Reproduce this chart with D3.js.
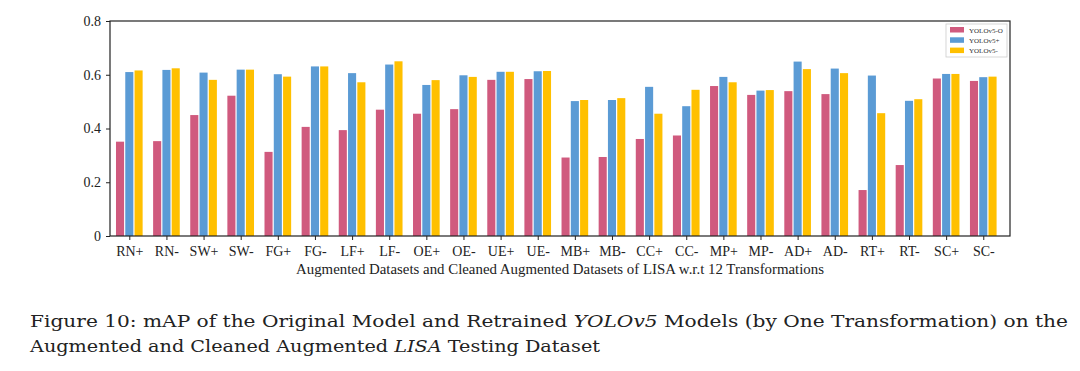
<!DOCTYPE html>
<html><head><meta charset="utf-8">
<script src="https://cdn.jsdelivr.net/npm/d3@7"></script>
<style>body{margin:0;background:#fff}svg{display:block}</style>
</head><body><svg id="c" width="1080" height="371"></svg>
<script>
const categories = ["RN+","RN-","SW+","SW-","FG+","FG-","LF+","LF-","OE+","OE-","UE+","UE-","MB+","MB-","CC+","CC-","MP+","MP-","AD+","AD-","RT+","RT-","SC+","SC-"];
const seriesNames = ["YOLOv5-O","YOLOv5+","YOLOv5-"];
const yoloO    = [0.351,0.353,0.450,0.522,0.313,0.406,0.394,0.470,0.455,0.472,0.581,0.584,0.292,0.294,0.361,0.374,0.558,0.525,0.539,0.528,0.171,0.264,0.586,0.577];
const yoloPlus = [0.610,0.618,0.608,0.619,0.602,0.631,0.606,0.638,0.562,0.598,0.611,0.613,0.502,0.506,0.555,0.483,0.592,0.541,0.649,0.623,0.597,0.503,0.603,0.591];
const yoloMinus= [0.616,0.624,0.581,0.619,0.593,0.631,0.572,0.650,0.580,0.592,0.611,0.614,0.506,0.513,0.455,0.544,0.572,0.543,0.621,0.606,0.457,0.509,0.603,0.593];
const yTicks = [0,0.2,0.4,0.6,0.8];
const colors = ["#d05a7e","#5b9bd5","#ffc000"];
const series = [yoloO, yoloPlus, yoloMinus];

const svg = d3.select("#c");
const L=110,R=1010,T=21,B=236;
const x = d3.scaleLinear().domain([-0.52,23.72]).range([L,R]);
const y = d3.scaleLinear().domain([0,0.8]).range([B,T]);
const bw = 0.25;
const serif = "'Liberation Serif','Times New Roman',serif";

series.forEach((vals,s)=>{
  svg.append("g").selectAll("rect").data(vals).join("rect")
    .attr("x",(d,i)=>x(i+(s-1)*bw-bw/2)+0.6)
    .attr("width",x(bw)-x(0)-1.2)
    .attr("y",d=>y(d))
    .attr("height",d=>y(0)-y(d))
    .attr("fill",colors[s]);
});

const ya = svg.append("g").attr("transform",`translate(${L},0)`)
  .call(d3.axisLeft(y).tickValues(yTicks).tickFormat(d=>d===0?"0":d3.format(".1f")(d)).tickSize(4).tickPadding(5));
const xa = svg.append("g").attr("transform",`translate(0,${B})`)
  .call(d3.axisBottom(x).tickValues(d3.range(categories.length)).tickFormat(i=>categories[i]).tickSize(4).tickPadding(6));
[ya,xa].forEach(a=>{
  a.select(".domain").remove();
  a.selectAll("line").attr("stroke","#222").attr("stroke-width",1);
  a.selectAll("text").attr("font-family",serif).attr("font-size",14).attr("fill","#222");
});
svg.append("rect").attr("x",L).attr("y",T).attr("width",R-L).attr("height",B-T)
  .attr("fill","none").attr("stroke","#222").attr("stroke-width",1.2);

svg.append("text").attr("x",(L+R)/2).attr("y",273.5).attr("text-anchor","middle")
  .attr("font-family",serif).attr("font-size",15).attr("fill","#222")
  .attr("textLength",528).attr("lengthAdjust","spacingAndGlyphs")
  .text("Augmented Datasets and Cleaned Augmented Datasets of LISA w.r.t 12 Transformations");

// legend
const lg = svg.append("g");
lg.append("rect").attr("x",946).attr("y",24).attr("width",61).attr("height",33)
  .attr("fill","#fff").attr("stroke","#ccc").attr("stroke-width",0.8);
seriesNames.forEach((n,i)=>{
  lg.append("rect").attr("x",950).attr("y",27+i*10.3).attr("width",14).attr("height",5.5).attr("fill",colors[i]);
  lg.append("text").attr("x",969).attr("y",32.5+i*10.3).attr("font-family",serif).attr("font-size",7).attr("fill","#333").text(n);
});

// caption
const cap = svg.append("g").attr("font-family","'DejaVu Serif',serif").attr("font-size",17).attr("fill","#222");
const l1 = cap.append("text").attr("x",30).attr("y",327).attr("textLength",1038).attr("lengthAdjust","spacingAndGlyphs");
l1.append("tspan").text("Figure 10:  mAP of the Original Model and Retrained ");
l1.append("tspan").attr("font-style","italic").text("YOLOv5");
l1.append("tspan").text(" Models (by One Transformation) on the");
const l2 = cap.append("text").attr("x",30).attr("y",352).attr("textLength",570).attr("lengthAdjust","spacingAndGlyphs");
l2.append("tspan").text("Augmented and Cleaned Augmented ");
l2.append("tspan").attr("font-style","italic").text("LISA");
l2.append("tspan").text(" Testing Dataset");
</script></body></html>
